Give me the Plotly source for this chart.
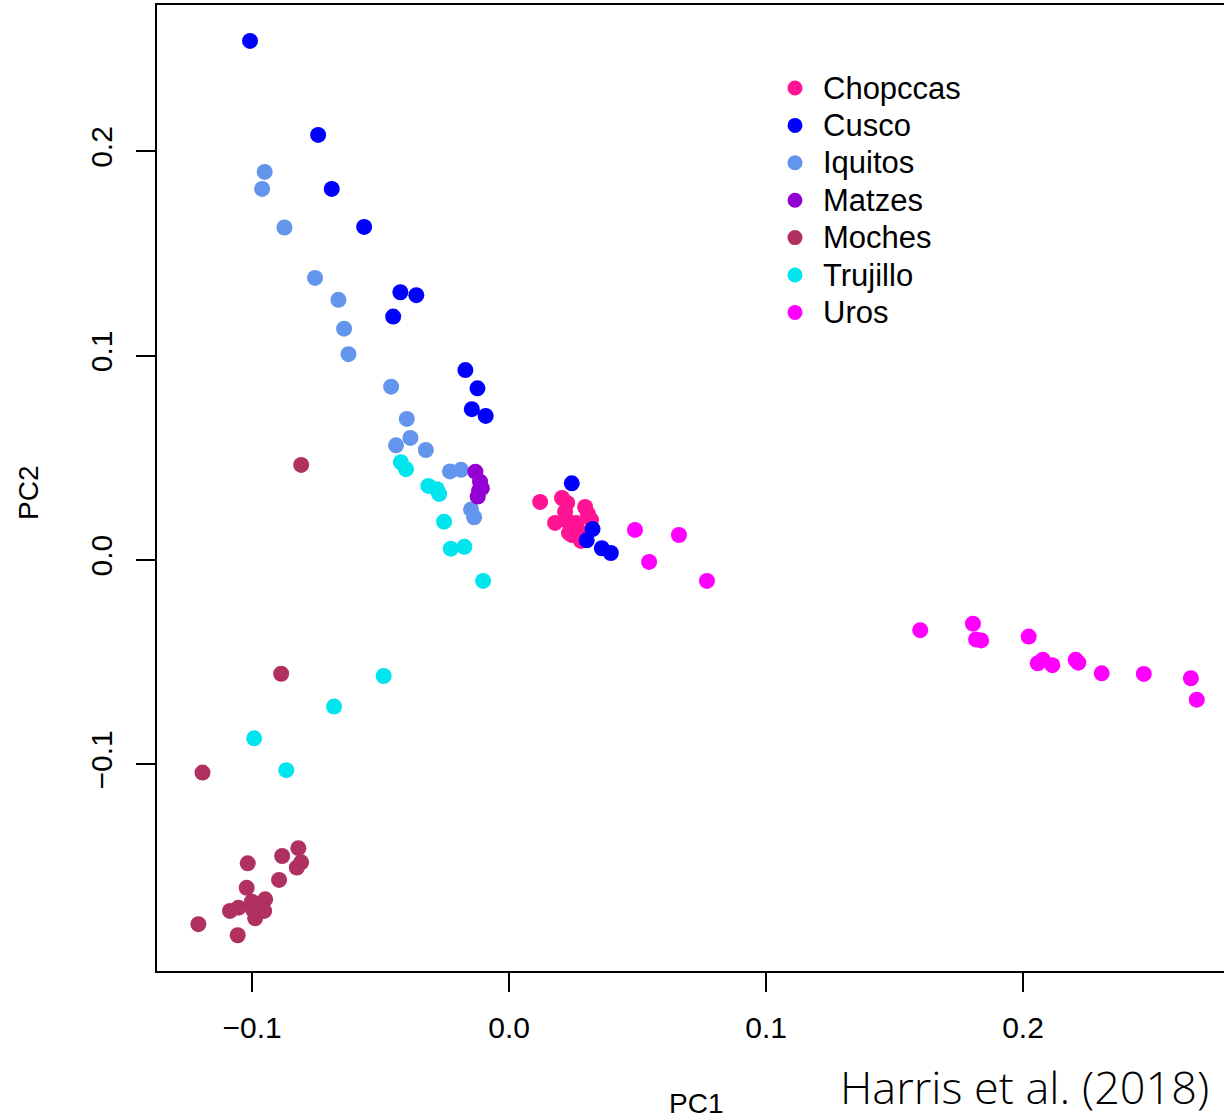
import plotly.graph_objects as go

# Principal component scores per population (PC1, PC2)
chopccas_pc1 = [0.0121, 0.0206, 0.0226, 0.0218, 0.0179, 0.0226, 0.0245, 0.0261,
                0.0296, 0.0307, 0.0319, 0.0268, 0.0245, 0.0280, 0.0296, 0.0233]
chopccas_pc2 = [0.0285, 0.0304, 0.0280, 0.0236, 0.0182, 0.0192, 0.0163, 0.0182,
                0.0260, 0.0226, 0.0197, 0.0148, 0.0123, 0.0094, 0.0123, 0.0133]

cusco_pc1 = [-0.1008, -0.0743, -0.0690, -0.0564, -0.0423, -0.0361, -0.0451, -0.0170,
             -0.0123, -0.0145, -0.0091, 0.0244, 0.0325, 0.0302, 0.0361, 0.0396]
cusco_pc2 = [0.2541, 0.2081, 0.1817, 0.1631, 0.1311, 0.1297, 0.1192, 0.0930,
             0.0841, 0.0739, 0.0706, 0.0376, 0.0152, 0.0097, 0.0058, 0.0035]

iquitos_pc1 = [-0.0951, -0.0961, -0.0874, -0.0755, -0.0664, -0.0642, -0.0625, -0.0459,
               -0.0398, -0.0384, -0.0440, -0.0324, -0.0230, -0.0187, -0.0148, -0.0136]
iquitos_pc2 = [0.1900, 0.1817, 0.1628, 0.1381, 0.1274, 0.1133, 0.1008, 0.0849,
               0.0691, 0.0598, 0.0562, 0.0539, 0.0434, 0.0442, 0.0248, 0.0210]

matzes_pc1 = [-0.0131, -0.0113, -0.0106, -0.0117, -0.0122]
matzes_pc2 = [0.0433, 0.0384, 0.0352, 0.0339, 0.0311]

moches_pc1 = [-0.0809, -0.0887, -0.1193, -0.1017, -0.0883, -0.0820, -0.0809, -0.0826,
              -0.0895, -0.1021, -0.1086, -0.1053, -0.1001, -0.0949, -0.0953, -0.0988,
              -0.0996, -0.1209, -0.1056]
moches_pc2 = [0.0466, -0.0556, -0.1040, -0.1484, -0.1448, -0.1410, -0.1479, -0.1505,
              -0.1565, -0.1604, -0.1717, -0.1701, -0.1672, -0.1660, -0.1717, -0.1753,
              -0.1712, -0.1782, -0.1836]

trujillo_pc1 = [-0.0421, -0.0401, -0.0314, -0.0281, -0.0272, -0.0253, -0.0227, -0.0174,
                -0.0101, -0.0488, -0.0681, -0.0992, -0.0867]
trujillo_pc2 = [0.0479, 0.0445, 0.0363, 0.0347, 0.0324, 0.0188, 0.0056, 0.0065,
                -0.0102, -0.0567, -0.0717, -0.0872, -0.1028]

uros_pc1 = [0.0490, 0.0661, 0.0545, 0.0770, 0.1600, 0.1805, 0.1817, 0.1837, 0.2022,
            0.2057, 0.2077, 0.2114, 0.2205, 0.2215, 0.2306, 0.2470, 0.2653, 0.2676]
uros_pc2 = [0.0148, 0.0123, -0.0009, -0.0102, -0.0343, -0.0311, -0.0388, -0.0393, -0.0374,
            -0.0505, -0.0488, -0.0514, -0.0488, -0.0502, -0.0554, -0.0557, -0.0578, -0.0683]

populations = ["Chopccas", "Cusco", "Iquitos", "Matzes", "Moches", "Trujillo", "Uros"]
pc1_values = [chopccas_pc1, cusco_pc1, iquitos_pc1, matzes_pc1, moches_pc1, trujillo_pc1, uros_pc1]
pc2_values = [chopccas_pc2, cusco_pc2, iquitos_pc2, matzes_pc2, moches_pc2, trujillo_pc2, uros_pc2]
colors = ["#FF1493", "#0000FF", "#6495ED", "#9400D3", "#B03060", "#00E5EE", "#FF00FF"]

x_ticks = [-0.1, 0.0, 0.1, 0.2]
y_ticks = [-0.1, 0.0, 0.1, 0.2]

FONT = "Liberation Sans, Arial, Helvetica, sans-serif"

# Figure geometry (px) used to place the in-plot key
W, H = 1224, 1119
ML, MR, MT, MB = 157, 0, 5, 148
PW, PH = W - ML - MR, H - MT - MB


def px_x(p):
    return (p - ML) / PW


def px_y(q):
    return (H - MB - q) / PH


fig = go.Figure()
for name, xs, ys, col in zip(populations, pc1_values, pc2_values, colors):
    fig.add_trace(go.Scatter(
        x=xs, y=ys, mode="markers", name=name, showlegend=False,
        marker=dict(color=col, size=16, line=dict(width=0)),
    ))

# Key in the upper right: coloured dot plus population name per row
key_shapes = []
key_labels = []
key_dot_x, key_text_x, key_top, key_step = 795, 821, 88, 37.4
for i, (name, col) in enumerate(zip(populations, colors)):
    row_y = key_top + i * key_step
    key_shapes.append(dict(
        type="circle", xref="paper", yref="paper",
        xsizemode="pixel", ysizemode="pixel",
        xanchor=px_x(key_dot_x), yanchor=px_y(row_y),
        x0=-7.5, x1=7.5, y0=-7.5, y1=7.5,
        fillcolor=col, line=dict(width=0),
    ))
    key_labels.append(dict(
        text=name, xref="paper", yref="paper",
        x=px_x(key_text_x), y=px_y(row_y),
        xanchor="left", yanchor="middle", showarrow=False,
        font=dict(family=FONT, size=31, color="black"),
    ))

fig.update_layout(
    width=W, height=H,
    margin=dict(l=ML, r=MR, t=MT, b=MB),
    paper_bgcolor="white", plot_bgcolor="white",
    font=dict(family=FONT, color="black", size=30),
    showlegend=False,
    xaxis=dict(
        range=[-0.137, 0.2782], tickvals=x_ticks, tickformat=".1f",
        showgrid=False, zeroline=False,
        showline=True, linecolor="black", linewidth=2, mirror=True,
        ticks="outside", ticklen=19, tickwidth=1.5, tickcolor="black",
        tickfont=dict(family=FONT, size=30), ticklabelstandoff=10,
    ),
    yaxis=dict(
        range=[-0.2011, 0.2717], tickvals=y_ticks, tickformat=".1f",
        showgrid=False, zeroline=False,
        showline=True, linecolor="black", linewidth=2, mirror=False,
        ticks="outside", ticklen=19, tickwidth=1.5, tickcolor="black",
        tickangle=-90, tickfont=dict(family=FONT, size=30), ticklabelstandoff=12,
    ),
    shapes=key_shapes,
    annotations=key_labels + [
        dict(text="PC1", xref="paper", yref="paper", x=px_x(696), y=px_y(1103),
             xanchor="center", yanchor="middle", showarrow=False,
             font=dict(family=FONT, size=28)),
        dict(text="PC2", xref="paper", yref="paper", x=px_x(28), y=px_y(493),
             xanchor="center", yanchor="middle", textangle=-90, showarrow=False,
             font=dict(family=FONT, size=28)),
        dict(text="Harris et al. (2018)", xref="paper", yref="paper",
             x=px_x(838), y=px_y(1086),
             xanchor="left", yanchor="middle", showarrow=False,
             font=dict(family="Open Sans, sans-serif", size=45, weight=300)),
    ],
)

fig.write_html("out.html")
